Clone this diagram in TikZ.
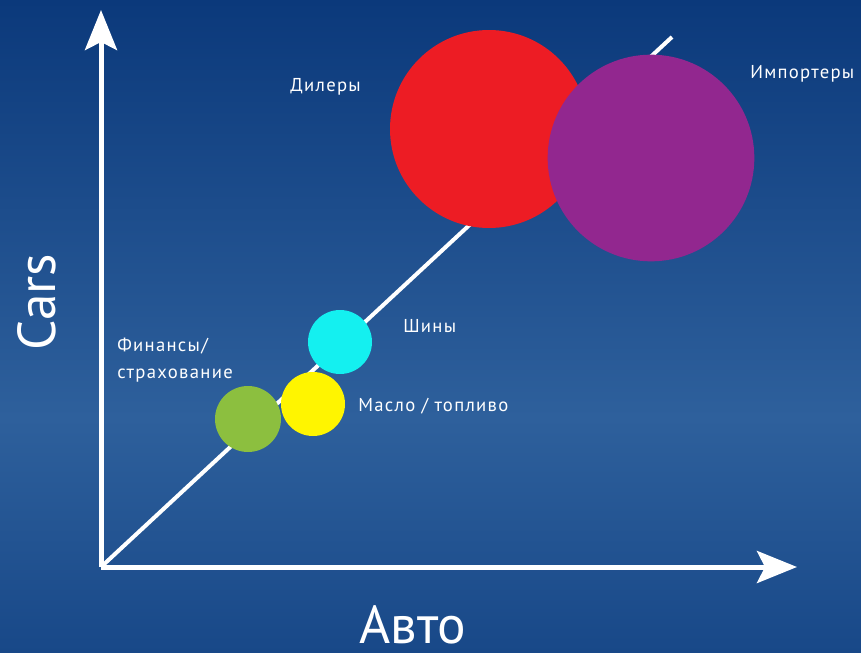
\documentclass[tikz,border=0pt]{standalone}
\usepackage{fontspec}
\setmainfont{PT Sans}
\newfontfamily\lblfont[LetterSpace=7]{PT Sans}
\usetikzlibrary{arrows.meta}
\definecolor{bgtop}{HTML}{0B397B}
\definecolor{bgmid}{HTML}{2E609C}
\definecolor{bgbot}{HTML}{184888}
\definecolor{cred}{HTML}{ED1C24}
\definecolor{cpurple}{HTML}{92278F}
\definecolor{ccyan}{HTML}{14F0F0}
\definecolor{cyellow}{HTML}{FFF500}
\definecolor{cgreen}{HTML}{8CBF3F}
\pgfdeclareverticalshading{bgshade}{100bp}{color(0bp)=(bgbot); color(25bp)=(bgbot); color(43bp)=(bgmid); color(75bp)=(bgtop); color(100bp)=(bgtop)}
\tikzset{
  axis/.style={draw=white, line width=3.75pt, -{Stealth[length=30pt,width=24pt,inset=6pt]}},
  diag/.style={draw=white, line width=3pt},
  bubble/.style={circle, draw=none, inner sep=0pt},
  lbl/.style={text=white, font=\lblfont\fontsize{14}{20}\selectfont, inner sep=0pt, anchor=west},
  big/.style={text=white, font=\fontsize{40}{44}\selectfont, inner sep=0pt}
}
\begin{document}
\begin{tikzpicture}[x=0.75pt, y=-0.75pt]
  \shade[shading=bgshade] (0,0) rectangle (861,653);
  \useasboundingbox (0,0) rectangle (861,653);
  \coordinate (O) at (101,567);
  \coordinate (ytip) at (101,10);
  \coordinate (xtip) at (797,567);
  \coordinate (dtip) at (672,37);
  \draw[diag] (O) -- (dtip);
  \draw[axis] (O) -- (ytip);
  \draw[axis] (O) -- (xtip);
  \node[bubble, fill=cred, minimum size=148.5pt] (dealers) at (489,129) {};
  \node[bubble, fill=cpurple, minimum size=155pt] (importers) at (651,158) {};
  \node[bubble, fill=ccyan, minimum size=48pt] (tires) at (340,342) {};
  \node[bubble, fill=cyellow, minimum size=48pt] (oil) at (313,404) {};
  \node[bubble, fill=cgreen, minimum size=49.5pt] (finance) at (248,419) {};
  \node[lbl] (ldealers) at (290,87) {Дилеры};
  \node[lbl] (limporters) at (750,74) {Импортеры};
  \node[lbl] (ltires) at (403,326) {Шины};
  \node[lbl, align=left] (lfinance) at (117,360) {Финансы/\\страхование};
  \node[lbl] (loil) at (358,406) {Масло / топливо};
  \node[big, rotate=90] (ycap) at (37,302) {Cars};
  \node[big, anchor=base] (xcap) at (413,643) {Авто};
\end{tikzpicture}
\end{document}
